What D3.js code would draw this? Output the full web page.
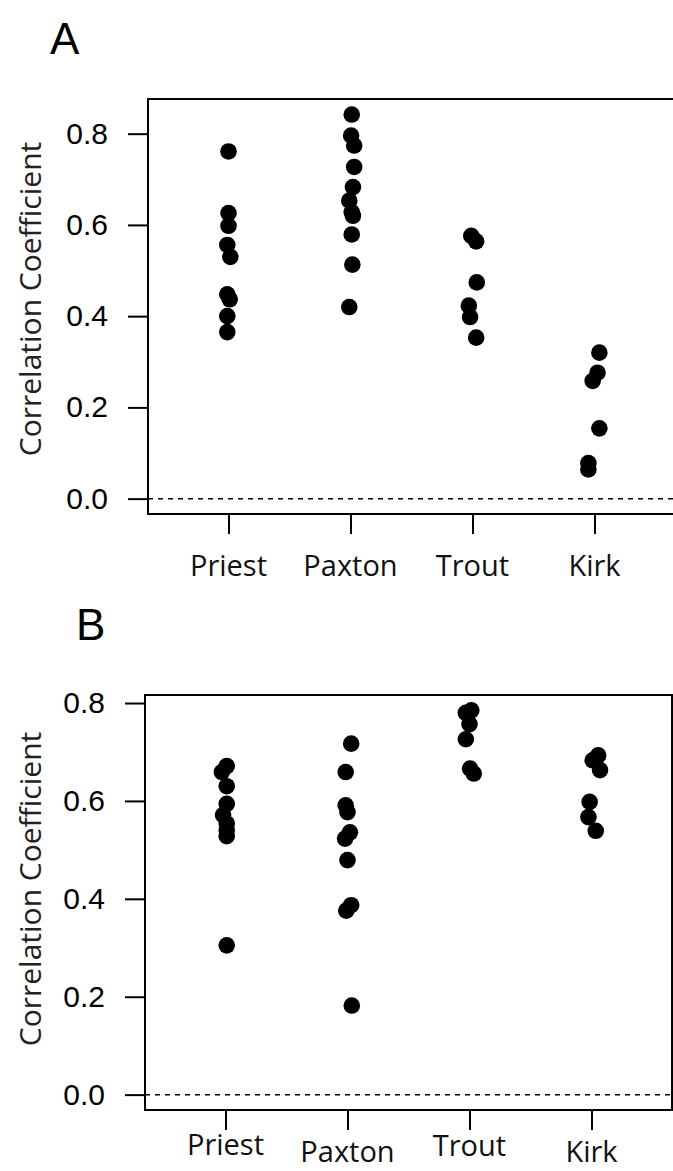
<!DOCTYPE html>
<html>
<head>
<meta charset="utf-8">
<script src="https://cdn.jsdelivr.net/npm/d3@7"></script>
<style>
  body { margin: 0; background: #fff; }
  svg { display: block; }
</style>
</head>
<body>
<div id="chart"></div>
<script>
const categories = ["Priest", "Paxton", "Trout", "Kirk"]
const yTicks = [0, 0.2, 0.4, 0.6, 0.8]

// panel A: correlation coefficients per lake
const aPriest = [0.761, 0.626, 0.598, 0.556, 0.530, 0.448, 0.437, 0.400, 0.365]
const aPaxton = [0.842, 0.796, 0.774, 0.727, 0.683, 0.653, 0.628, 0.620, 0.579, 0.513, 0.420]
const aTrout  = [0.576, 0.564, 0.474, 0.423, 0.398, 0.353]
const aKirk   = [0.320, 0.276, 0.258, 0.154, 0.078, 0.064]

// panel B
const bPriest = [0.671, 0.659, 0.630, 0.594, 0.571, 0.554, 0.540, 0.528, 0.305]
const bPaxton = [0.717, 0.659, 0.591, 0.577, 0.536, 0.523, 0.479, 0.387, 0.376, 0.182]
const bTrout  = [0.785, 0.780, 0.757, 0.726, 0.666, 0.656]
const bKirk   = [0.693, 0.683, 0.663, 0.598, 0.567, 0.539]

// horizontal jitter (category units) as seen in the strip chart
const aPriestJit = [0, 0, 0, -0.01, 0.015, -0.01, 0.01, -0.01, -0.01]
const aPaxtonJit = [0.01, 0.005, 0.03, 0.03, 0.02, -0.01, 0.01, 0.02, 0.01, 0.015, -0.01]
const aTroutJit  = [-0.01, 0.03, 0.035, -0.03, -0.02, 0.03]
const aKirkJit   = [0.04, 0.025, -0.015, 0.04, -0.05, -0.05]
const bPriestJit = [0.01, -0.03, 0.01, 0.01, -0.02, 0.01, 0.01, 0.01, 0.01]
const bPaxtonJit = [0.03, -0.015, -0.015, 0, 0.02, -0.02, 0, 0.03, -0.01, 0.035]
const bTroutJit  = [0.015, -0.03, 0, -0.03, 0.005, 0.035]
const bKirkJit   = [0.055, 0.01, 0.07, -0.015, -0.025, 0.035]

const width = 673
const height = 1171

const svg = d3.select("#chart").append("svg")
  .attr("width", width)
  .attr("height", height)

const panels = [
  {
    letter: "A", letterX: 50, letterY: 54,
    left: 148, top: 99, bottom: 514,
    yDomain: [-0.0337, 0.876],
    titleX: 41, titleY: 299,
    labelY: [576, 576, 576, 576],
    series: [aPriest, aPaxton, aTrout, aKirk],
    jitter: [aPriestJit, aPaxtonJit, aTroutJit, aKirkJit]
  },
  {
    letter: "B", letterX: 76, letterY: 640,
    left: 145, top: 695, bottom: 1110,
    yDomain: [-0.0314, 0.8164],
    titleX: 41, titleY: 889,
    labelY: [1155, 1162, 1156, 1162],
    series: [bPriest, bPaxton, bTrout, bKirk],
    jitter: [bPriestJit, bPaxtonJit, bTroutJit, bKirkJit]
  }
]

panels.forEach(p => drawPanel(p))

function drawPanel(p) {
  const plotW = 527
  const x = d3.scaleLinear().domain([0.34, 4.66]).range([p.left, p.left + plotW])
  const y = d3.scaleLinear().domain(p.yDomain).range([p.bottom, p.top])

  const g = svg.append("g")

  // y axis
  const yAxis = g.append("g")
    .attr("transform", "translate(" + p.left + ",0)")
    .call(d3.axisLeft(y).tickValues(yTicks).tickFormat(d3.format(".1f")).tickSize(20).tickPadding(20))
  yAxis.select(".domain").remove()
  yAxis.selectAll("line").attr("stroke", "#000").attr("stroke-width", 2)
  yAxis.selectAll("text")
    .style("font-family", "'Liberation Sans', Arial, sans-serif")
    .style("font-size", "30px")
    .attr("fill", "#000")

  // x axis ticks
  const xAxis = g.append("g")
    .attr("transform", "translate(0," + p.bottom + ")")
    .call(d3.axisBottom(x).tickValues([1, 2, 3, 4]).tickFormat("").tickSize(20))
  xAxis.select(".domain").remove()
  xAxis.selectAll("line").attr("stroke", "#000").attr("stroke-width", 2)

  // category labels
  g.selectAll(".cat")
    .data(categories)
    .enter().append("text")
    .attr("class", "cat")
    .attr("x", (d, i) => x(i + 1))
    .attr("y", (d, i) => p.labelY[i])
    .attr("text-anchor", "middle")
    .style("font-family", "'Open Sans', sans-serif")
    .style("font-size", "29px")
    .attr("fill", "#111")
    .text(d => d)

  // zero line
  g.append("line")
    .attr("x1", p.left).attr("x2", p.left + plotW)
    .attr("y1", y(0)).attr("y2", y(0))
    .attr("stroke", "#000")
    .attr("stroke-width", 1.5)
    .attr("stroke-dasharray", "5,5")

  // box
  g.append("rect")
    .attr("x", p.left).attr("y", p.top)
    .attr("width", plotW).attr("height", p.bottom - p.top)
    .attr("fill", "none")
    .attr("stroke", "#000")
    .attr("stroke-width", 2)

  // points
  p.series.forEach((vals, i) => {
    g.selectAll(null)
      .data(vals)
      .enter().append("circle")
      .attr("cx", (d, j) => x(i + 1 + p.jitter[i][j]))
      .attr("cy", d => y(d))
      .attr("r", 8.3)
      .attr("fill", "#000")
  })

  // y title
  g.append("text")
    .attr("transform", "translate(" + p.titleX + "," + p.titleY + ") rotate(-90)")
    .attr("text-anchor", "middle")
    .style("font-family", "'Open Sans', sans-serif")
    .style("font-size", "30px")
    .attr("fill", "#222")
    .text("Correlation Coefficient")

  // panel letter
  g.append("text")
    .attr("x", p.letterX).attr("y", p.letterY)
    .style("font-family", "'Liberation Sans', Arial, sans-serif")
    .style("font-size", "44px")
    .attr("fill", "#000")
    .text(p.letter)
}
</script>
</body>
</html>
